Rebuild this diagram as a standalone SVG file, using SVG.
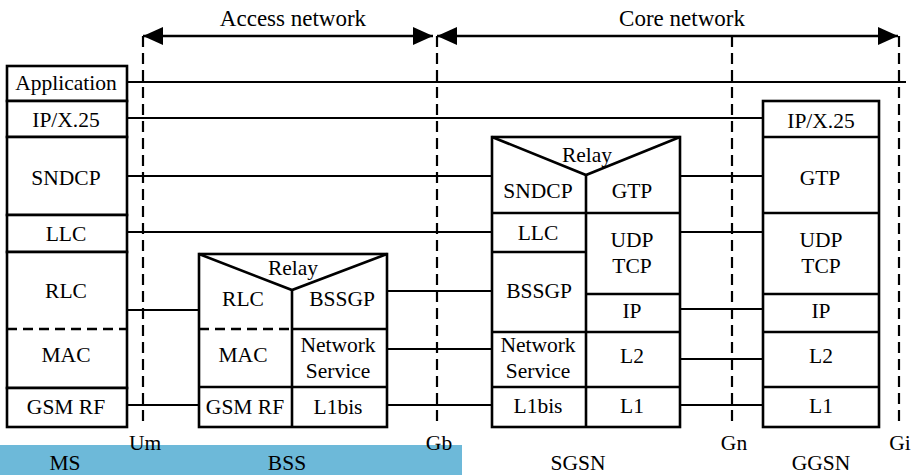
<svg xmlns="http://www.w3.org/2000/svg" width="916" height="475" viewBox="0 0 916 475" font-family="'Liberation Serif', 'Times New Roman', serif" font-size="21.5">
  <style>
    text { font-family: 'Liberation Serif', 'Times New Roman', serif; font-size: 21.5px; fill: #000; text-anchor: middle; }
    text.head { font-size: 23px; }
    .box { fill: #fff; stroke: #000; stroke-width: 2.6; }
    .div { fill: none; stroke: #000; stroke-width: 2.6; }
    .dash { fill: none; stroke: #000; stroke-width: 2.6; stroke-dasharray: 10 6; }
    .link { fill: none; stroke: #000; stroke-width: 2.2; }
    .iface { fill: none; stroke: #000; stroke-width: 2.2; stroke-dasharray: 11 6; }
    .span { fill: none; stroke: #000; stroke-width: 2.4; }
  </style>
  <defs>
    <marker id="head" viewBox="0 0 20 18" refX="20" refY="9" markerWidth="20" markerHeight="18" markerUnits="userSpaceOnUse" orient="auto-start-reverse">
      <path d="M0,0 L20,9 L0,18 Z" fill="#000"/>
    </marker>
  </defs>

  <rect x="0" y="445" width="462" height="30" fill="#6db9d9"/>

  <!-- network spans -->
  <g id="spans" text-anchor="middle">
    <line class="span" x1="143" y1="36" x2="433" y2="36" marker-start="url(#head)" marker-end="url(#head)"/>
    <line class="span" x1="437" y1="36" x2="898" y2="36" marker-start="url(#head)" marker-end="url(#head)"/>
    <text class="head" x="293" y="26">Access network</text>
    <text class="head" x="682" y="26">Core network</text>
  </g>

  <!-- interface boundaries -->
  <g id="interfaces" text-anchor="middle">
    <line class="iface" x1="143" y1="36" x2="143" y2="422"/>
    <line class="iface" x1="437" y1="36" x2="437" y2="422"/>
    <line class="iface" x1="732" y1="36" x2="732" y2="422"/>
    <line class="iface" x1="899" y1="36" x2="899" y2="422"/>
    <text x="145" y="450">Um</text>
    <text x="439" y="450">Gb</text>
    <text x="734" y="450">Gn</text>
    <text x="900" y="450">Gi</text>
  </g>

  <!-- peer-to-peer connectors -->
  <g id="connectors">
    <line class="link" x1="127" y1="82" x2="906" y2="82"/>
    <line class="link" x1="127" y1="118" x2="763" y2="118"/>
    <line class="link" x1="127" y1="176" x2="492" y2="176"/>
    <line class="link" x1="680" y1="176" x2="763" y2="176"/>
    <line class="link" x1="127" y1="232" x2="492" y2="232"/>
    <line class="link" x1="680" y1="232" x2="763" y2="232"/>
    <line class="link" x1="127" y1="310" x2="199" y2="310"/>
    <line class="link" x1="387" y1="291" x2="492" y2="291"/>
    <line class="link" x1="680" y1="309" x2="763" y2="309"/>
    <line class="link" x1="387" y1="349" x2="492" y2="349"/>
    <line class="link" x1="680" y1="359" x2="763" y2="359"/>
    <line class="link" x1="127" y1="405" x2="199" y2="405"/>
    <line class="link" x1="387" y1="405" x2="492" y2="405"/>
    <line class="link" x1="680" y1="405" x2="763" y2="405"/>
  </g>

  <!-- mobile station protocol stack -->
  <g id="ms" text-anchor="middle">
    <rect class="box" x="7" y="66" width="120" height="35"/>
    <rect class="box" x="7" y="101" width="120" height="36"/>
    <rect class="box" x="7" y="137" width="120" height="78"/>
    <rect class="box" x="7" y="215" width="120" height="37"/>
    <rect class="box" x="7" y="252" width="120" height="136"/>
    <line class="dash" x1="7" y1="329" x2="127" y2="329"/>
    <rect class="box" x="7" y="388" width="120" height="39"/>
    <text x="66" y="90">Application</text>
    <text x="66" y="127">IP/X.25</text>
    <text x="66" y="185">SNDCP</text>
    <text x="66" y="241">LLC</text>
    <text x="66" y="298">RLC</text>
    <text x="66" y="362">MAC</text>
    <text x="66" y="414">GSM RF</text>
  </g>

  <!-- base station subsystem protocol stack -->
  <g id="bss" text-anchor="middle">
    <rect class="box" x="199" y="254" width="188" height="173"/>
    <polyline class="div" points="199,254 292,290 387,254"/>
    <line class="div" x1="292" y1="290" x2="292" y2="427"/>
    <line class="dash" x1="199" y1="329" x2="292" y2="329"/>
    <line class="div" x1="292" y1="329" x2="387" y2="329"/>
    <line class="div" x1="199" y1="387" x2="387" y2="387"/>
    <text x="293" y="275">Relay</text>
    <text x="243" y="306">RLC</text>
    <text x="342" y="306">BSSGP</text>
    <text x="243" y="362">MAC</text>
    <text x="338" y="352">Network</text>
    <text x="338" y="378">Service</text>
    <text x="245" y="414">GSM RF</text>
    <text x="338" y="414">L1bis</text>
  </g>

  <!-- SGSN protocol stack -->
  <g id="sgsn" text-anchor="middle">
    <rect class="box" x="492" y="137" width="188" height="290"/>
    <polyline class="div" points="492,137 586,175 680,137"/>
    <line class="div" x1="586" y1="175" x2="586" y2="427"/>
    <line class="div" x1="492" y1="213" x2="680" y2="213"/>
    <line class="div" x1="492" y1="252" x2="586" y2="252"/>
    <line class="div" x1="586" y1="294" x2="680" y2="294"/>
    <line class="div" x1="492" y1="332" x2="680" y2="332"/>
    <line class="div" x1="492" y1="387" x2="680" y2="387"/>
    <text x="587" y="162">Relay</text>
    <text x="538" y="198">SNDCP</text>
    <text x="632" y="198">GTP</text>
    <text x="538" y="240">LLC</text>
    <text x="632" y="247">UDP</text>
    <text x="632" y="273">TCP</text>
    <text x="539" y="298">BSSGP</text>
    <text x="632" y="318">IP</text>
    <text x="538" y="352">Network</text>
    <text x="538" y="378">Service</text>
    <text x="632" y="363">L2</text>
    <text x="538" y="413">L1bis</text>
    <text x="632" y="413">L1</text>
  </g>

  <!-- GGSN protocol stack -->
  <g id="ggsn" text-anchor="middle">
    <rect class="box" x="763" y="101" width="116" height="326"/>
    <line class="div" x1="763" y1="137" x2="879" y2="137"/>
    <line class="div" x1="763" y1="213" x2="879" y2="213"/>
    <line class="div" x1="763" y1="294" x2="879" y2="294"/>
    <line class="div" x1="763" y1="332" x2="879" y2="332"/>
    <line class="div" x1="763" y1="387" x2="879" y2="387"/>
    <text x="821" y="128">IP/X.25</text>
    <text x="820" y="185">GTP</text>
    <text x="821" y="247">UDP</text>
    <text x="821" y="273">TCP</text>
    <text x="821" y="318">IP</text>
    <text x="821" y="363">L2</text>
    <text x="821" y="413">L1</text>
  </g>

  <!-- node names -->
  <g id="labels" text-anchor="middle">
    <text x="65" y="470">MS</text>
    <text x="287" y="470">BSS</text>
    <text x="578" y="470">SGSN</text>
    <text x="821" y="470">GGSN</text>
  </g>
</svg>
